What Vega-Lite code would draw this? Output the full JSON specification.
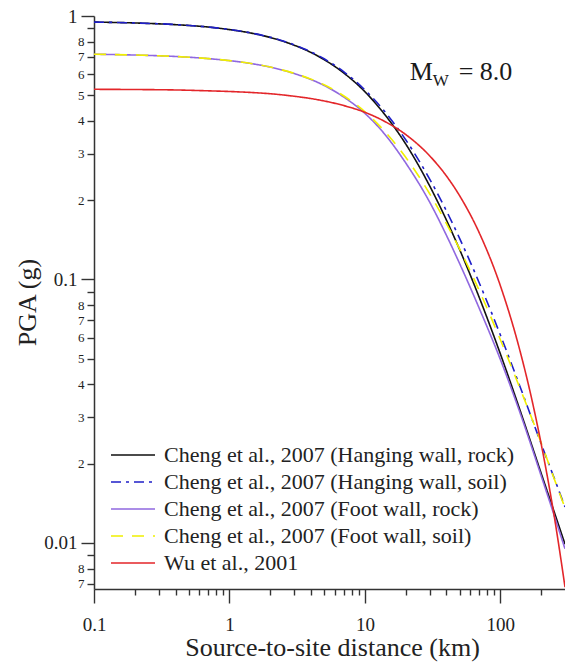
{
  "$schema": "https://vega.github.io/schema/vega-lite/v6.json",
  "width": 471,
  "height": 573,
  "autosize": {"type": "none"},
  "padding": {"left": 94, "top": 16, "right": 0, "bottom": 81},
  "background": "white",
  "config": {"view": {"stroke": null}, "font": "Liberation Serif"},
  "data": {
    "values": [
      {"s": "Cheng et al., 2007 (Hanging wall, rock)", "d": 0.1, "pga": 0.948},
      {"s": "Cheng et al., 2007 (Hanging wall, rock)", "d": 0.2, "pga": 0.941},
      {"s": "Cheng et al., 2007 (Hanging wall, rock)", "d": 0.4, "pga": 0.927},
      {"s": "Cheng et al., 2007 (Hanging wall, rock)", "d": 0.7, "pga": 0.908},
      {"s": "Cheng et al., 2007 (Hanging wall, rock)", "d": 1, "pga": 0.888},
      {"s": "Cheng et al., 2007 (Hanging wall, rock)", "d": 1.5, "pga": 0.858},
      {"s": "Cheng et al., 2007 (Hanging wall, rock)", "d": 2, "pga": 0.829},
      {"s": "Cheng et al., 2007 (Hanging wall, rock)", "d": 3, "pga": 0.775},
      {"s": "Cheng et al., 2007 (Hanging wall, rock)", "d": 4, "pga": 0.727},
      {"s": "Cheng et al., 2007 (Hanging wall, rock)", "d": 5, "pga": 0.683},
      {"s": "Cheng et al., 2007 (Hanging wall, rock)", "d": 7, "pga": 0.607},
      {"s": "Cheng et al., 2007 (Hanging wall, rock)", "d": 10, "pga": 0.516},
      {"s": "Cheng et al., 2007 (Hanging wall, rock)", "d": 14, "pga": 0.423},
      {"s": "Cheng et al., 2007 (Hanging wall, rock)", "d": 20, "pga": 0.327},
      {"s": "Cheng et al., 2007 (Hanging wall, rock)", "d": 30, "pga": 0.227},
      {"s": "Cheng et al., 2007 (Hanging wall, rock)", "d": 40, "pga": 0.168},
      {"s": "Cheng et al., 2007 (Hanging wall, rock)", "d": 50, "pga": 0.130},
      {"s": "Cheng et al., 2007 (Hanging wall, rock)", "d": 70, "pga": 0.0852},
      {"s": "Cheng et al., 2007 (Hanging wall, rock)", "d": 100, "pga": 0.0522},
      {"s": "Cheng et al., 2007 (Hanging wall, rock)", "d": 140, "pga": 0.0318},
      {"s": "Cheng et al., 2007 (Hanging wall, rock)", "d": 200, "pga": 0.0184},
      {"s": "Cheng et al., 2007 (Hanging wall, rock)", "d": 250, "pga": 0.0131},
      {"s": "Cheng et al., 2007 (Hanging wall, rock)", "d": 300, "pga": 0.0099},

      {"s": "Cheng et al., 2007 (Hanging wall, soil)", "d": 0.1, "pga": 0.948},
      {"s": "Cheng et al., 2007 (Hanging wall, soil)", "d": 0.2, "pga": 0.941},
      {"s": "Cheng et al., 2007 (Hanging wall, soil)", "d": 0.4, "pga": 0.928},
      {"s": "Cheng et al., 2007 (Hanging wall, soil)", "d": 0.7, "pga": 0.908},
      {"s": "Cheng et al., 2007 (Hanging wall, soil)", "d": 1, "pga": 0.889},
      {"s": "Cheng et al., 2007 (Hanging wall, soil)", "d": 1.5, "pga": 0.859},
      {"s": "Cheng et al., 2007 (Hanging wall, soil)", "d": 2, "pga": 0.831},
      {"s": "Cheng et al., 2007 (Hanging wall, soil)", "d": 3, "pga": 0.778},
      {"s": "Cheng et al., 2007 (Hanging wall, soil)", "d": 4, "pga": 0.731},
      {"s": "Cheng et al., 2007 (Hanging wall, soil)", "d": 5, "pga": 0.688},
      {"s": "Cheng et al., 2007 (Hanging wall, soil)", "d": 7, "pga": 0.614},
      {"s": "Cheng et al., 2007 (Hanging wall, soil)", "d": 10, "pga": 0.524},
      {"s": "Cheng et al., 2007 (Hanging wall, soil)", "d": 14, "pga": 0.434},
      {"s": "Cheng et al., 2007 (Hanging wall, soil)", "d": 20, "pga": 0.339},
      {"s": "Cheng et al., 2007 (Hanging wall, soil)", "d": 30, "pga": 0.241},
      {"s": "Cheng et al., 2007 (Hanging wall, soil)", "d": 40, "pga": 0.182},
      {"s": "Cheng et al., 2007 (Hanging wall, soil)", "d": 50, "pga": 0.1433},
      {"s": "Cheng et al., 2007 (Hanging wall, soil)", "d": 70, "pga": 0.0968},
      {"s": "Cheng et al., 2007 (Hanging wall, soil)", "d": 100, "pga": 0.0616},
      {"s": "Cheng et al., 2007 (Hanging wall, soil)", "d": 140, "pga": 0.0391},
      {"s": "Cheng et al., 2007 (Hanging wall, soil)", "d": 200, "pga": 0.0238},
      {"s": "Cheng et al., 2007 (Hanging wall, soil)", "d": 250, "pga": 0.0176},
      {"s": "Cheng et al., 2007 (Hanging wall, soil)", "d": 300, "pga": 0.0137},

      {"s": "Cheng et al., 2007 (Foot wall, rock)", "d": 0.1, "pga": 0.716},
      {"s": "Cheng et al., 2007 (Foot wall, rock)", "d": 0.2, "pga": 0.711},
      {"s": "Cheng et al., 2007 (Foot wall, rock)", "d": 0.4, "pga": 0.702},
      {"s": "Cheng et al., 2007 (Foot wall, rock)", "d": 0.7, "pga": 0.689},
      {"s": "Cheng et al., 2007 (Foot wall, rock)", "d": 1, "pga": 0.677},
      {"s": "Cheng et al., 2007 (Foot wall, rock)", "d": 1.5, "pga": 0.658},
      {"s": "Cheng et al., 2007 (Foot wall, rock)", "d": 2, "pga": 0.640},
      {"s": "Cheng et al., 2007 (Foot wall, rock)", "d": 3, "pga": 0.605},
      {"s": "Cheng et al., 2007 (Foot wall, rock)", "d": 4, "pga": 0.574},
      {"s": "Cheng et al., 2007 (Foot wall, rock)", "d": 5, "pga": 0.545},
      {"s": "Cheng et al., 2007 (Foot wall, rock)", "d": 7, "pga": 0.492},
      {"s": "Cheng et al., 2007 (Foot wall, rock)", "d": 10, "pga": 0.427},
      {"s": "Cheng et al., 2007 (Foot wall, rock)", "d": 14, "pga": 0.356},
      {"s": "Cheng et al., 2007 (Foot wall, rock)", "d": 20, "pga": 0.277},
      {"s": "Cheng et al., 2007 (Foot wall, rock)", "d": 30, "pga": 0.197},
      {"s": "Cheng et al., 2007 (Foot wall, rock)", "d": 40, "pga": 0.147},
      {"s": "Cheng et al., 2007 (Foot wall, rock)", "d": 50, "pga": 0.115},
      {"s": "Cheng et al., 2007 (Foot wall, rock)", "d": 70, "pga": 0.0775},
      {"s": "Cheng et al., 2007 (Foot wall, rock)", "d": 100, "pga": 0.0497},
      {"s": "Cheng et al., 2007 (Foot wall, rock)", "d": 140, "pga": 0.0311},
      {"s": "Cheng et al., 2007 (Foot wall, rock)", "d": 200, "pga": 0.0180},
      {"s": "Cheng et al., 2007 (Foot wall, rock)", "d": 250, "pga": 0.0127},
      {"s": "Cheng et al., 2007 (Foot wall, rock)", "d": 300, "pga": 0.0095},

      {"s": "Cheng et al., 2007 (Foot wall, soil)", "d": 0.1, "pga": 0.716},
      {"s": "Cheng et al., 2007 (Foot wall, soil)", "d": 0.2, "pga": 0.711},
      {"s": "Cheng et al., 2007 (Foot wall, soil)", "d": 0.4, "pga": 0.702},
      {"s": "Cheng et al., 2007 (Foot wall, soil)", "d": 0.7, "pga": 0.689},
      {"s": "Cheng et al., 2007 (Foot wall, soil)", "d": 1, "pga": 0.677},
      {"s": "Cheng et al., 2007 (Foot wall, soil)", "d": 1.5, "pga": 0.658},
      {"s": "Cheng et al., 2007 (Foot wall, soil)", "d": 2, "pga": 0.640},
      {"s": "Cheng et al., 2007 (Foot wall, soil)", "d": 3, "pga": 0.606},
      {"s": "Cheng et al., 2007 (Foot wall, soil)", "d": 4, "pga": 0.576},
      {"s": "Cheng et al., 2007 (Foot wall, soil)", "d": 5, "pga": 0.548},
      {"s": "Cheng et al., 2007 (Foot wall, soil)", "d": 7, "pga": 0.497},
      {"s": "Cheng et al., 2007 (Foot wall, soil)", "d": 10, "pga": 0.433},
      {"s": "Cheng et al., 2007 (Foot wall, soil)", "d": 14, "pga": 0.365},
      {"s": "Cheng et al., 2007 (Foot wall, soil)", "d": 20, "pga": 0.291},
      {"s": "Cheng et al., 2007 (Foot wall, soil)", "d": 30, "pga": 0.212},
      {"s": "Cheng et al., 2007 (Foot wall, soil)", "d": 40, "pga": 0.163},
      {"s": "Cheng et al., 2007 (Foot wall, soil)", "d": 50, "pga": 0.1306},
      {"s": "Cheng et al., 2007 (Foot wall, soil)", "d": 70, "pga": 0.0905},
      {"s": "Cheng et al., 2007 (Foot wall, soil)", "d": 100, "pga": 0.0591},
      {"s": "Cheng et al., 2007 (Foot wall, soil)", "d": 140, "pga": 0.0385},
      {"s": "Cheng et al., 2007 (Foot wall, soil)", "d": 200, "pga": 0.0240},
      {"s": "Cheng et al., 2007 (Foot wall, soil)", "d": 250, "pga": 0.0175},
      {"s": "Cheng et al., 2007 (Foot wall, soil)", "d": 300, "pga": 0.0136},

      {"s": "Wu et al., 2001", "d": 0.1, "pga": 0.527},
      {"s": "Wu et al., 2001", "d": 0.2, "pga": 0.526},
      {"s": "Wu et al., 2001", "d": 0.4, "pga": 0.524},
      {"s": "Wu et al., 2001", "d": 0.7, "pga": 0.520},
      {"s": "Wu et al., 2001", "d": 1, "pga": 0.517},
      {"s": "Wu et al., 2001", "d": 1.5, "pga": 0.512},
      {"s": "Wu et al., 2001", "d": 2, "pga": 0.507},
      {"s": "Wu et al., 2001", "d": 3, "pga": 0.496},
      {"s": "Wu et al., 2001", "d": 4, "pga": 0.486},
      {"s": "Wu et al., 2001", "d": 5, "pga": 0.476},
      {"s": "Wu et al., 2001", "d": 7, "pga": 0.457},
      {"s": "Wu et al., 2001", "d": 10, "pga": 0.431},
      {"s": "Wu et al., 2001", "d": 14, "pga": 0.398},
      {"s": "Wu et al., 2001", "d": 20, "pga": 0.355},
      {"s": "Wu et al., 2001", "d": 30, "pga": 0.295},
      {"s": "Wu et al., 2001", "d": 40, "pga": 0.247},
      {"s": "Wu et al., 2001", "d": 50, "pga": 0.208},
      {"s": "Wu et al., 2001", "d": 70, "pga": 0.150},
      {"s": "Wu et al., 2001", "d": 100, "pga": 0.0947},
      {"s": "Wu et al., 2001", "d": 140, "pga": 0.0533},
      {"s": "Wu et al., 2001", "d": 170, "pga": 0.0354},
      {"s": "Wu et al., 2001", "d": 200, "pga": 0.0238},
      {"s": "Wu et al., 2001", "d": 230, "pga": 0.0162},
      {"s": "Wu et al., 2001", "d": 250, "pga": 0.0126},
      {"s": "Wu et al., 2001", "d": 270, "pga": 0.0098},
      {"s": "Wu et al., 2001", "d": 300, "pga": 0.0068}
    ]
  },
  "resolve": {"axis": {"x": "independent", "y": "independent"}},
  "layer": [
    {
      "mark": {"type": "point", "opacity": 0},
      "encoding": {
        "x": {
          "field": "d", "type": "quantitative",
          "scale": {"type": "log", "domain": [0.1, 300], "nice": false},
          "axis": {
            "orient": "bottom", "title": null,
            "values": [0.2,0.3,0.4,0.5,0.6,0.7,0.8,0.9,2,3,4,5,6,7,8,9,20,30,40,50,60,70,80,90,200],
            "labels": false, "domain": false, "grid": false,
            "tickColor": "#333333", "tickWidth": 1.4, "tickSize": 6
          }
        },
        "y": {
          "field": "pga", "type": "quantitative",
          "scale": {"type": "log", "domain": [0.00669, 1], "nice": false},
          "axis": {
            "orient": "left", "title": null,
            "values": [0.9,0.8,0.7,0.6,0.5,0.4,0.3,0.2,0.09,0.08,0.07,0.06,0.05,0.04,0.03,0.02,0.009,0.008,0.007],
            "labelExpr": "round(datum.value/pow(10,floor(log(datum.value)/LN10+0.000001)))==9 ? '' : '' + round(datum.value/pow(10,floor(log(datum.value)/LN10+0.000001)))",
            "labelOverlap": false, "labelFlush": false,
            "domain": false, "grid": false,
            "tickColor": "#333333", "tickWidth": 1.4, "tickSize": 7,
            "labelPadding": 3,
            "labelFont": "Liberation Serif", "labelFontSize": 13, "labelColor": "#222222"
          }
        }
      }
    },
    {
      "mark": {"type": "line", "strokeWidth": 1.6, "clip": true, "interpolate": "monotone"},
      "encoding": {
        "x": {
          "field": "d", "type": "quantitative",
          "scale": {"type": "log", "domain": [0.1, 300], "nice": false},
          "axis": {
            "orient": "bottom",
            "title": "Source-to-site distance (km)",
            "values": [0.1, 1, 10, 100],
            "format": "~g",
            "labelOverlap": false, "labelFlush": false,
            "grid": false,
            "domainColor": "#333333", "domainWidth": 1.5,
            "tickColor": "#333333", "tickWidth": 1.4, "tickSize": 14,
            "labelPadding": 12,
            "labelFont": "Liberation Serif", "labelFontSize": 19, "labelColor": "#222222",
            "titleFont": "Liberation Serif", "titleFontSize": 26, "titleFontWeight": "normal", "titleColor": "#222222",
            "titleBaseline": "alphabetic", "titleX": 238, "titleY": 66
          }
        },
        "y": {
          "field": "pga", "type": "quantitative",
          "scale": {"type": "log", "domain": [0.00669, 1], "nice": false},
          "axis": {
            "orient": "left",
            "title": "PGA (g)",
            "values": [1, 0.1, 0.01],
            "format": "~g",
            "labelOverlap": false, "labelFlush": false,
            "grid": false,
            "domainColor": "#333333", "domainWidth": 1.5,
            "tickColor": "#333333", "tickWidth": 1.4, "tickSize": 13,
            "labelPadding": 4,
            "labelFont": "Liberation Serif", "labelFontSize": 19, "labelColor": "#222222",
            "titleFont": "Liberation Serif", "titleFontSize": 26, "titleFontWeight": "normal", "titleColor": "#222222",
            "titleBaseline": "alphabetic", "titleX": -59, "titleY": 286
          }
        },
        "color": {
          "field": "s", "type": "nominal",
          "scale": {
            "domain": ["Cheng et al., 2007 (Hanging wall, rock)", "Cheng et al., 2007 (Hanging wall, soil)", "Cheng et al., 2007 (Foot wall, rock)", "Cheng et al., 2007 (Foot wall, soil)", "Wu et al., 2001"],
            "range": ["#111111", "#1f1fc8", "#9068e0", "#f0f000", "#e3262a"]
          },
          "legend": {
            "title": null, "orient": "none", "legendX": 16, "legendY": 428, "padding": 0,
            "symbolType": "stroke", "symbolSize": 1936, "symbolStrokeWidth": 1.6,
            "clipHeight": 22, "rowPadding": 5, "labelOffset": 8, "labelLimit": 0,
            "labelFont": "Liberation Serif", "labelFontSize": 22, "labelColor": "#222222"
          }
        },
        "strokeDash": {
          "field": "s", "type": "nominal",
          "scale": {
            "domain": ["Cheng et al., 2007 (Hanging wall, rock)", "Cheng et al., 2007 (Hanging wall, soil)", "Cheng et al., 2007 (Foot wall, rock)", "Cheng et al., 2007 (Foot wall, soil)", "Wu et al., 2001"],
            "range": [[1, 0], [10, 5, 3, 5], [1, 0], [12, 9], [1, 0]]
          },
          "legend": {
            "title": null, "orient": "none", "legendX": 16, "legendY": 428, "padding": 0,
            "symbolType": "stroke", "symbolSize": 1936, "symbolStrokeWidth": 1.6,
            "clipHeight": 22, "rowPadding": 5, "labelOffset": 8, "labelLimit": 0,
            "labelFont": "Liberation Serif", "labelFontSize": 22, "labelColor": "#222222"
          }
        }
      }
    },
    {
      "data": {"values": [{}]},
      "mark": {"type": "text", "text": "M", "font": "Liberation Serif", "fontSize": 26, "align": "left", "baseline": "alphabetic", "color": "#1a1a1a"},
      "encoding": {"x": {"datum": 21.4, "axis": null}, "y": {"datum": 0.5715, "axis": null}}
    },
    {
      "data": {"values": [{}]},
      "mark": {"type": "text", "text": "W", "font": "Liberation Serif", "fontSize": 17, "align": "left", "baseline": "alphabetic", "dx": 23, "dy": 6, "color": "#1a1a1a"},
      "encoding": {"x": {"datum": 21.4, "axis": null}, "y": {"datum": 0.5715, "axis": null}}
    },
    {
      "data": {"values": [{}]},
      "mark": {"type": "text", "text": "= 8.0", "font": "Liberation Serif", "fontSize": 26, "align": "left", "baseline": "alphabetic", "dx": 49, "color": "#1a1a1a"},
      "encoding": {"x": {"datum": 21.4, "axis": null}, "y": {"datum": 0.5715, "axis": null}}
    }
  ]
}
